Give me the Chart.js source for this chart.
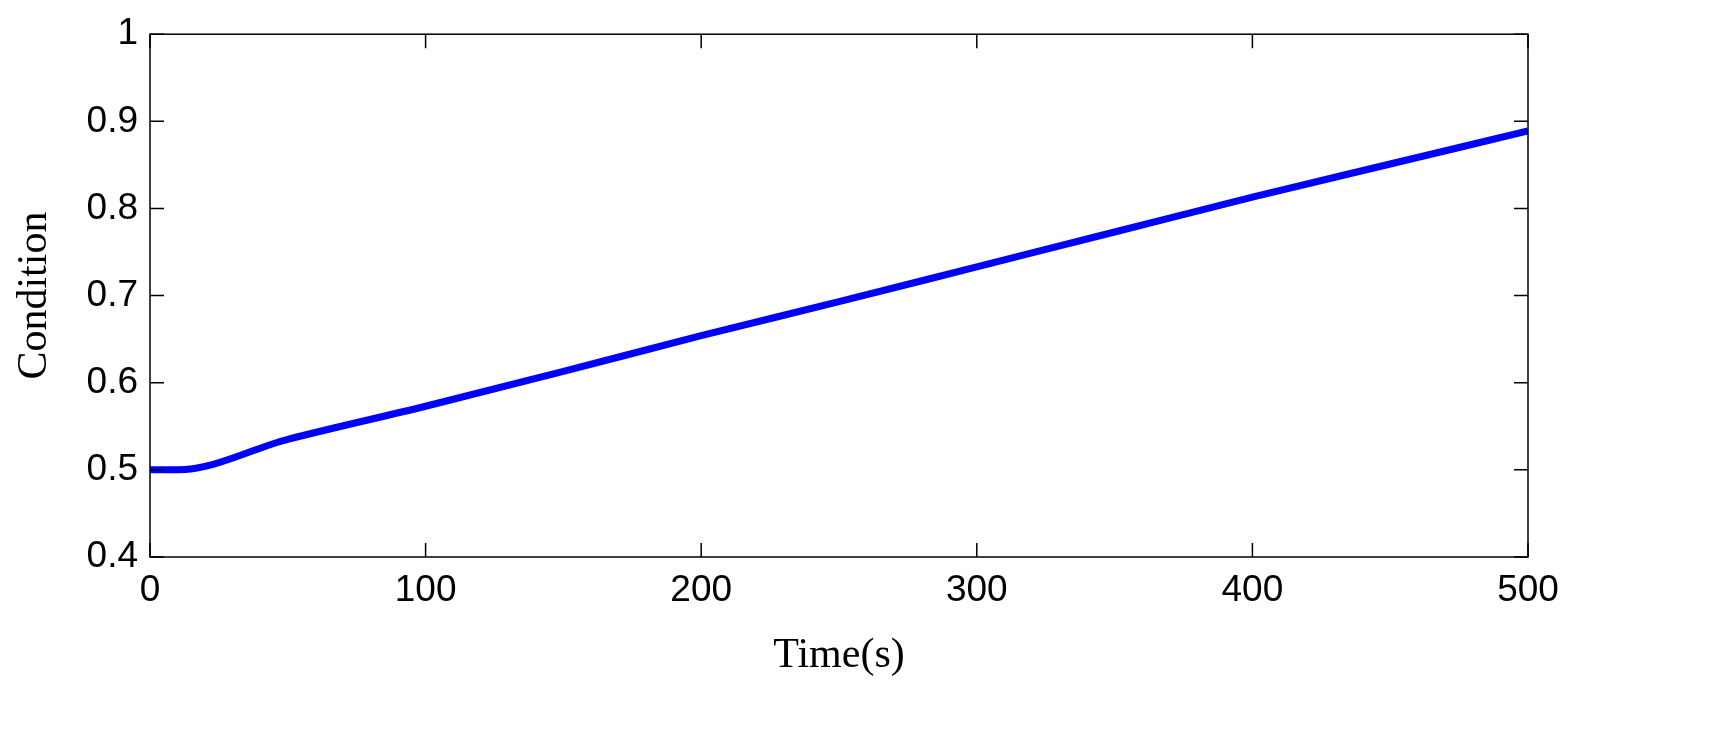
<!DOCTYPE html>
<html>
<head>
<meta charset="utf-8">
<script src="https://cdn.jsdelivr.net/npm/chart.js"></script>
<style>
  html, body { margin: 0; padding: 0; background: #fff; }
  #wrap { width: 1717px; height: 749px; }
</style>
</head>
<body>
<div id="wrap"><canvas id="c" width="1717" height="749"></canvas></div>
<script>
// values
const timeValues = [0, 10, 50, 100, 150, 200, 250, 300, 350, 400, 450, 500];
const conditionValues = [0.5, 0.5, 0.535, 0.573, 0.613, 0.654, 0.693, 0.733, 0.773, 0.813, 0.851, 0.889];
const xTicks = [0, 100, 200, 300, 400, 500];
const yTicks = [0.4, 0.5, 0.6, 0.7, 0.8, 0.9, 1];

// frame and inward tick marks on all four sides
const framePlugin = {
    id: 'frame',
    afterDraw(chart) {
        const ctx = chart.ctx;
        const a = chart.chartArea;
        const xs = chart.scales.x, ys = chart.scales.y;
        ctx.save();
        ctx.strokeStyle = '#000';
        ctx.lineWidth = 1.5;
        ctx.strokeRect(a.left, a.top, a.right - a.left, a.bottom - a.top);
        ctx.beginPath();
        xTicks.forEach(function(v) {
            let px = xs.getPixelForValue(v);
            ctx.moveTo(px, a.bottom); ctx.lineTo(px, a.bottom - 14);
            ctx.moveTo(px, a.top); ctx.lineTo(px, a.top + 14);
        });
        yTicks.forEach(function(v) {
            let py = ys.getPixelForValue(v);
            ctx.moveTo(a.left, py); ctx.lineTo(a.left + 14, py);
            ctx.moveTo(a.right, py); ctx.lineTo(a.right - 14, py);
        });
        ctx.stroke();
        ctx.restore();
    }
};

new Chart(document.getElementById('c').getContext('2d'), {
    type: 'line',
    data: {
        datasets: [{
            data: timeValues.map(function(t, i) { return { x: t, y: conditionValues[i] }; }),
            borderColor: '#0000ff',
            borderWidth: 7,
            pointRadius: 0,
            cubicInterpolationMode: 'monotone'
        }]
    },
    options: {
        responsive: false,
        animation: false,
        layout: { padding: { top: 27, right: 189, left: 0, bottom: 0 } },
        plugins: { legend: { display: false }, tooltip: { enabled: false } },
        scales: {
            x: {
                type: 'linear', min: 0, max: 500,
                grid: { display: false, drawTicks: false },
                border: { display: false },
                afterBuildTicks: function(s) { s.ticks = xTicks.map(function(v) { return { value: v }; }); },
                afterFit: function(s) { s.height = 192; },
                ticks: { padding: 12, color: '#000', font: { family: 'Liberation Sans', size: 37 }, maxRotation: 0 },
                title: { display: true, text: 'Time(s)', color: '#000', padding: { top: 0, bottom: 68 },
                         font: { family: 'Liberation Serif', size: 42 } }
            },
            y: {
                min: 0.4, max: 1,
                grid: { display: false, drawTicks: false },
                border: { display: false },
                afterBuildTicks: function(s) { s.ticks = yTicks.map(function(v) { return { value: v }; }); },
                afterFit: function(s) { s.width = 150; },
                ticks: { padding: 12, color: '#000', font: { family: 'Liberation Sans', size: 37 },
                         callback: function(v) { return String(v); } },
                title: { display: true, text: 'Condition', color: '#000', padding: { top: 10, bottom: 0 },
                         font: { family: 'Liberation Serif', size: 42 } }
            }
        }
    },
    plugins: [framePlugin]
});
</script>
</body>
</html>
